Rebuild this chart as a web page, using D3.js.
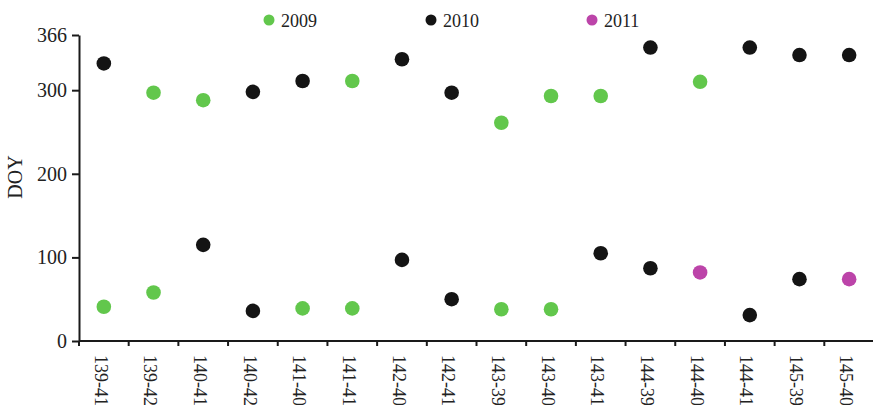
<!DOCTYPE html>
<html>
<head>
<meta charset="utf-8">
<script src="https://cdn.jsdelivr.net/npm/d3@7/dist/d3.min.js"></script>
<style>
  html, body { margin: 0; padding: 0; background: #fff; }
  svg { display: block; font-family: "Liberation Serif", "Times New Roman", serif; }
</style>
</head>
<body>
<svg id="chart" width="873" height="405"></svg>
<script>
// Site identifiers along the x axis
const sites = ["139-41", "139-42", "140-41", "140-42", "141-40", "141-41", "142-40", "142-41",
               "143-39", "143-40", "143-41", "144-39", "144-40", "144-41", "145-39", "145-40"];

// Later-season dates (day of year) and the year each belongs to
const upperDOY  = [332, 297, 288, 298, 311, 311, 337, 297, 261, 293, 293, 351, 310, 351, 342, 342];
const upperYear = [2010, 2009, 2009, 2010, 2010, 2009, 2010, 2010, 2009, 2009, 2009, 2010, 2009, 2010, 2010, 2010];

// Early-season dates (day of year) and the year each belongs to
const lowerDOY  = [41, 58, 115, 36, 39, 39, 97, 50, 38, 38, 105, 87, 82, 31, 74, 74];
const lowerYear = [2009, 2009, 2010, 2010, 2009, 2009, 2010, 2010, 2009, 2009, 2010, 2010, 2011, 2010, 2010, 2011];

const years = [2009, 2010, 2011];
const yearColors = ["#62c74c", "#141414", "#bc44a9"];
const yTicks = [0, 100, 200, 300, 366];

const svg = d3.select("#chart");
const axisColor = "#1a1a1a";

const x = d3.scaleBand().domain(sites).range([79, 874]).padding(0);
const y = d3.scaleLinear().domain([0, 366]).range([341, 35]);
const color = d3.scaleOrdinal().domain(years).range(yearColors);

// Y axis
const yAxis = svg.append("g")
  .attr("transform", "translate(79,0)")
  .call(d3.axisLeft(y).tickValues(yTicks).tickSize(7).tickPadding(5).tickSizeOuter(0));
yAxis.select(".domain").attr("stroke", axisColor).attr("stroke-width", 2);
yAxis.selectAll(".tick line").attr("stroke", axisColor).attr("stroke-width", 2);
yAxis.selectAll(".tick text")
  .attr("fill", "#222")
  .style("font-size", "20px")
  .style("font-family", "Liberation Serif, serif");

// X axis: line, boundary ticks between sites, rotated site labels
const xAxis = svg.append("g").attr("transform", "translate(0,341)");
xAxis.append("line")
  .attr("x1", x.range()[0]).attr("x2", x.range()[1])
  .attr("stroke", axisColor).attr("stroke-width", 2.2);
const boundaries = sites.map(s => x(s)).concat([x.range()[1]]);
xAxis.selectAll("line.tick")
  .data(boundaries)
  .join("line")
  .attr("class", "tick")
  .attr("x1", d => d).attr("x2", d => d)
  .attr("y1", 0).attr("y2", 5)
  .attr("stroke", axisColor).attr("stroke-width", 2);
xAxis.selectAll("text")
  .data(sites)
  .join("text")
  .attr("transform", d => `translate(${x(d) + x.bandwidth() / 2 - 3},14) rotate(90)`)
  .attr("dy", "0.35em")
  .attr("fill", "#222")
  .style("font-size", "18px")
  .text(d => d);

// Y axis title
svg.append("text")
  .attr("transform", "translate(15,177) rotate(-90)")
  .attr("text-anchor", "middle")
  .attr("dy", "0.35em")
  .attr("fill", "#222")
  .style("font-size", "20px")
  .text("DOY");

// Points
const r = 7.3;
const cx = d => x(d) + x.bandwidth() / 2;
svg.append("g").selectAll("circle")
  .data(sites)
  .join("circle")
  .attr("cx", cx)
  .attr("cy", (d, i) => y(upperDOY[i]))
  .attr("r", r)
  .attr("fill", (d, i) => color(upperYear[i]));
svg.append("g").selectAll("circle")
  .data(sites)
  .join("circle")
  .attr("cx", cx)
  .attr("cy", (d, i) => y(lowerDOY[i]))
  .attr("r", r)
  .attr("fill", (d, i) => color(lowerYear[i]));

// Legend
const legendX = [269, 431, 592];
const legend = svg.append("g").selectAll("g")
  .data(years)
  .join("g")
  .attr("transform", (d, i) => `translate(${legendX[i]},20)`);
legend.append("circle").attr("r", 5.5).attr("fill", d => color(d));
legend.append("text")
  .attr("x", 12)
  .attr("y", 6.5)
  .attr("fill", "#222")
  .style("font-size", "18px")
  .text(d => d);
</script>
</body>
</html>
